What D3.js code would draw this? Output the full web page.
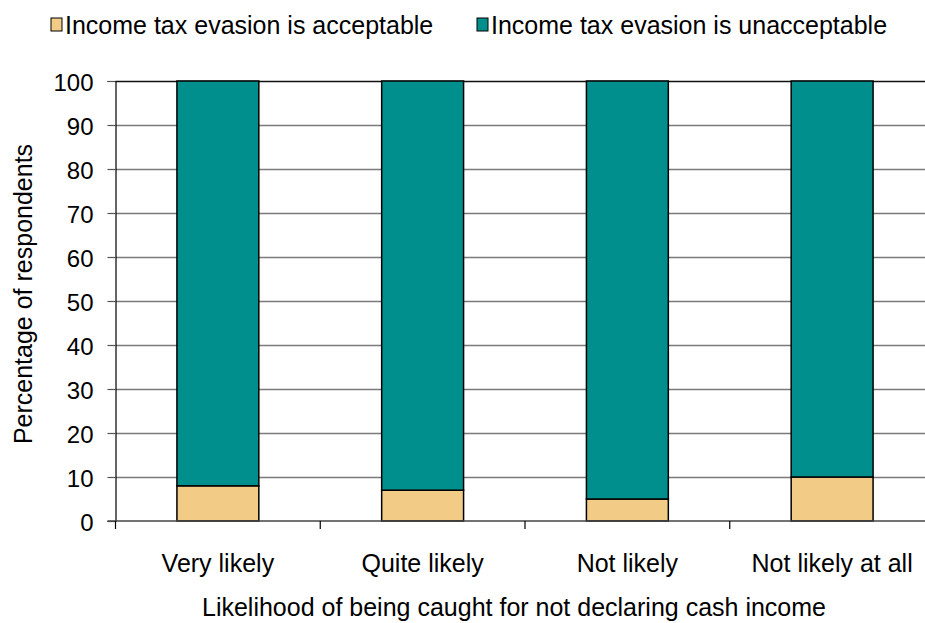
<!DOCTYPE html>
<html>
<head>
<meta charset="utf-8">
<script src="https://cdn.jsdelivr.net/npm/d3@7"></script>
<style>
  html, body { margin: 0; padding: 0; background: #fff; }
  svg { display: block; font-family: "Liberation Sans", Arial, sans-serif; }
</style>
</head>
<body>
<svg id="chart" width="925" height="623"></svg>
<script>
// Likelihood categories and stacked shares (percent of respondents)
const categories = ["Very likely", "Quite likely", "Not likely", "Not likely at all"];
const acceptable = [8, 7, 5, 10];
const unacceptable = [92, 93, 95, 90];
const seriesNames = ["Income tax evasion is acceptable", "Income tax evasion is unacceptable"];
const yTicks = [0, 10, 20, 30, 40, 50, 60, 70, 80, 90, 100];

const colors = ["#F2CC86", "#008F8C"];
const FONT = 25;

const svg = d3.select("#chart");
const W = 925, H = 623;
const plot = { left: 115.5, right: 934.5, top: 81, bottom: 521 };

const x = d3.scaleBand()
  .domain(categories)
  .range([plot.left, plot.right])
  .paddingInner(0.6)
  .paddingOuter(0.3);

const y = d3.scaleLinear().domain([0, 100]).range([plot.bottom, plot.top]);

// Horizontal gridlines
svg.append("g")
  .selectAll("line")
  .data(yTicks.filter(d => d > 0))
  .join("line")
  .attr("x1", plot.left)
  .attr("x2", W)
  .attr("y1", d => Math.round(y(d)) + 0.5)
  .attr("y2", d => Math.round(y(d)) + 0.5)
  .attr("stroke", d => d === 100 ? "#111" : "#7a7a7a")
  .attr("stroke-width", 1.5);

// Stacked bars
const rows = categories.map((c, i) => ({ cat: c, a: acceptable[i], u: unacceptable[i] }));
const stack = d3.stack().keys(["a", "u"])(rows);

svg.append("g")
  .selectAll("g")
  .data(stack)
  .join("g")
  .attr("fill", (d, i) => colors[i])
  .selectAll("rect")
  .data(d => d)
  .join("rect")
  .attr("x", d => x(d.data.cat))
  .attr("width", x.bandwidth())
  .attr("y", d => y(d[1]))
  .attr("height", d => y(d[0]) - y(d[1]))
  .attr("stroke", "#000")
  .attr("stroke-width", 1.5);

// Y axis
const yAxis = d3.axisLeft(y)
  .tickValues(yTicks)
  .tickSize(8)
  .tickPadding(14)
  .tickFormat(d3.format("d"));

const gy = svg.append("g")
  .attr("transform", `translate(${plot.left},0)`)
  .call(yAxis);
gy.select(".domain").attr("stroke", "#000").attr("stroke-width", 1.2);
gy.selectAll(".tick line").attr("stroke", "#555").attr("stroke-width", 1.2);
gy.selectAll(".tick text")
  .attr("font-size", FONT - 1)
  .attr("dy", "0.4em")
  .attr("fill", "#000")
  .attr("font-family", "Liberation Sans, Arial, sans-serif");

// X axis: baseline, ticks between categories, and labels
const gx = svg.append("g").attr("transform", `translate(0,${plot.bottom})`);
gx.append("line")
  .attr("x1", plot.left - 8).attr("x2", W)
  .attr("y1", 0).attr("y2", 0)
  .attr("stroke", "#444").attr("stroke-width", 1.5);

const boundaries = d3.range(0, categories.length).map(i => plot.left + i * (plot.right - plot.left) / categories.length);
gx.selectAll("line.sep")
  .data(boundaries)
  .join("line")
  .attr("class", "sep")
  .attr("x1", d => d).attr("x2", d => d)
  .attr("y1", 0).attr("y2", 8)
  .attr("stroke", "#000").attr("stroke-width", 1.2);

gx.selectAll("text.cat")
  .data(categories)
  .join("text")
  .attr("class", "cat")
  .attr("x", d => x(d) + x.bandwidth() / 2)
  .attr("y", 51)
  .attr("text-anchor", "middle")
  .attr("font-size", FONT)
  .attr("fill", "#000")
  .text(d => d);

// Axis titles
svg.append("text")
  .attr("x", 514)
  .attr("y", 616)
  .attr("text-anchor", "middle")
  .attr("font-size", FONT)
  .attr("fill", "#000")
  .text("Likelihood of being caught for not declaring cash income");

svg.append("text")
  .attr("transform", "translate(32,294) rotate(-90)")
  .attr("text-anchor", "middle")
  .attr("font-size", FONT)
  .attr("fill", "#000")
  .text("Percentage of respondents");

// Legend
const legend = svg.append("g").attr("transform", "translate(0,0)");
const legendItems = [
  { name: seriesNames[0], color: colors[0], x: 51 },
  { name: seriesNames[1], color: colors[1], x: 477 }
];
const li = legend.selectAll("g")
  .data(legendItems)
  .join("g")
  .attr("transform", d => `translate(${d.x},0)`);
li.append("rect")
  .attr("x", 0).attr("y", 18)
  .attr("width", 11).attr("height", 13)
  .attr("fill", d => d.color)
  .attr("stroke", "#000")
  .attr("stroke-width", 1);
li.append("text")
  .attr("x", 14)
  .attr("y", 34)
  .attr("font-size", FONT)
  .attr("fill", "#000")
  .text(d => d.name);
</script>
</body>
</html>
